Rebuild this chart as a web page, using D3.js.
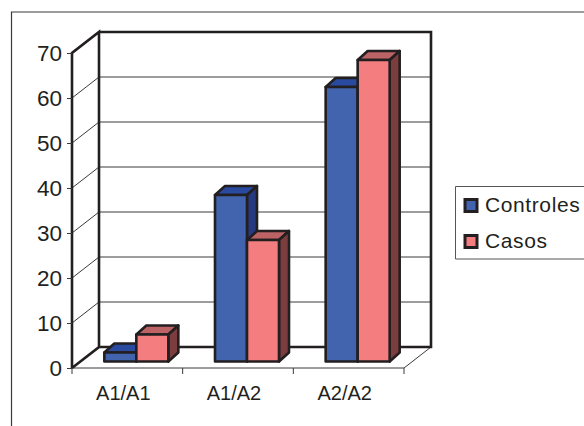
<!DOCTYPE html>
<html>
<head>
<meta charset="utf-8">
<style>
html, body { margin: 0; padding: 0; background: #fff; }
svg { display: block; }
text { font-family: "Liberation Sans", Arial, sans-serif; fill: #231f20; }
</style>
<script src="https://cdn.jsdelivr.net/npm/d3@7"></script>
</head>
<body>
<svg id="chart" width="584" height="426"></svg>
<script>
var categories = ["A1/A1", "A1/A2", "A2/A2"];
var seriesNames = ["Controles", "Casos"];
var controles = [2, 37, 61];
var casos = [6, 27, 67];
var yTicks = [0, 10, 20, 30, 40, 50, 60, 70];

var ink = "#231f20";
var colors = {
    Controles: { front: "#4264ae", top: "#2a4a9f", side: "#253a80" },
    Casos: { front: "#f47d7f", top: "#bb6365", side: "#7c3d3f" }
};

var svg = d3.select("#chart");

// front plane of the axes
var x = d3.scaleBand().domain(categories).range([72, 404]);
var y = d3.scaleLinear().domain([0, 70]).range([368, 53]);

// how far the back wall sits from the front plane
var wallDx = 27, wallDy = -21;
// bars stand a bit inside the floor and have their own depth
var barInX = 9, barInY = -6.5, barDx = 10, barDy = -9;

var xSeries = d3.scaleBand().domain(seriesNames).range([-32, 32]);

// outer frame, only top and left show
svg.append("path")
    .attr("d", "M584,12H11.5V426")
    .attr("fill", "none")
    .attr("stroke", "#3a3a3a")
    .attr("stroke-width", 1.2);

// gridlines on the side and back wall
svg.selectAll(".grid")
    .data(yTicks.filter(function (d) { return d > 0 && d < 70; }))
    .enter().append("path")
    .attr("class", "grid")
    .attr("d", function (d) {
        return "M72," + y(d) + "L" + (72 + wallDx) + "," + (y(d) + wallDy) + "H431";
    })
    .attr("fill", "none")
    .attr("stroke", "#3a3a3a")
    .attr("stroke-width", 1);

// floor, thin edges
svg.append("path")
    .attr("d", "M72," + y(0) + "H404L" + (404 + wallDx) + "," + (y(0) + wallDy))
    .attr("fill", "none")
    .attr("stroke", "#3a3a3a")
    .attr("stroke-width", 1);

// heavy wall outlines
svg.append("path")
    .attr("d", "M72," + y(0) + "V" + y(70) + "L" + (72 + wallDx) + "," + (y(70) + wallDy)
        + "V" + (y(0) + wallDy) + "L72," + y(0)
        + "M" + (72 + wallDx) + "," + (y(70) + wallDy) + "H431V" + (y(0) + wallDy) + "H" + (72 + wallDx))
    .attr("fill", "none")
    .attr("stroke", ink)
    .attr("stroke-width", 2.6);

// y axis ticks + labels
svg.append("g")
    .attr("transform", "translate(72,0)")
    .call(d3.axisLeft(y).tickValues(yTicks).tickSize(5).tickPadding(5).tickSizeOuter(0))
    .call(function (g) {
        g.select(".domain").remove();
        g.selectAll("line").attr("stroke", "#3a3a3a");
        g.selectAll("text").style("font-size", "22.5px").attr("fill", ink);
    });

// x axis ticks + labels
svg.selectAll(".xtick")
    .data(d3.range(categories.length + 1))
    .enter().append("line")
    .attr("class", "xtick")
    .attr("x1", function (d) { return 72 + d * x.step(); })
    .attr("x2", function (d) { return 72 + d * x.step(); })
    .attr("y1", y(0))
    .attr("y2", y(0) + 6)
    .attr("stroke", "#3a3a3a");

svg.selectAll(".xlabel")
    .data(categories)
    .enter().append("text")
    .attr("class", "xlabel")
    .attr("x", function (d) { return x(d) + x.bandwidth() / 2 - 4; })
    .attr("y", 400)
    .attr("text-anchor", "middle")
    .style("font-size", "20px")
    .text(function (d) { return d; });

// one box for each bar, blue first so the red one overlaps it
function addBar(name, values) {
    var g = svg.append("g").selectAll("g")
        .data(categories)
        .enter().append("g");

    function left(d) { return x(d) + x.bandwidth() / 2 + barInX + xSeries(name); }
    function base() { return y(0) + barInY; }
    function top(d, i) { return y(values[i]) + barInY; }
    var w = xSeries.bandwidth();

    g.append("path")
        .attr("d", function (d, i) {
            var l = left(d), t = top(d, i);
            return "M" + l + "," + t + "l" + barDx + "," + barDy + "h" + w + "l" + (-barDx) + "," + (-barDy) + "z";
        })
        .attr("fill", colors[name].top);

    g.append("path")
        .attr("d", function (d, i) {
            var r = left(d) + w, t = top(d, i);
            return "M" + r + "," + t + "l" + barDx + "," + barDy + "V" + (base() + barDy) + "l" + (-barDx) + "," + (-barDy) + "z";
        })
        .attr("fill", colors[name].side);

    g.append("rect")
        .attr("x", left)
        .attr("y", top)
        .attr("width", w)
        .attr("height", function (d, i) { return base() - top(d, i); })
        .attr("fill", colors[name].front);

    g.selectAll("path, rect")
        .attr("stroke", ink)
        .attr("stroke-width", 2.6)
        .attr("stroke-linejoin", "round");
}

// groups go left to right, series inside each group
addBar("Controles", controles);
addBar("Casos", casos);

// legend
svg.append("path")
    .attr("d", "M584,186.5H455.5V259H584")
    .attr("fill", "#fff")
    .attr("stroke", "#555")
    .attr("stroke-width", 1);

var legendY = d3.scalePoint().domain(seriesNames).range([205.5, 241.5]);

var legend = svg.selectAll(".legend")
    .data(seriesNames)
    .enter().append("g")
    .attr("class", "legend")
    .attr("transform", function (d) { return "translate(0," + legendY(d) + ")"; });

legend.append("rect")
    .attr("x", 465)
    .attr("y", -6)
    .attr("width", 12)
    .attr("height", 12)
    .attr("fill", function (d) { return colors[d].front; })
    .attr("stroke", ink)
    .attr("stroke-width", 3);

legend.append("text")
    .attr("x", 485)
    .attr("y", 6.5)
    .style("font-size", "21px")
    .style("letter-spacing", "0.6px")
    .text(function (d) { return d; });
</script>
</body>
</html>
